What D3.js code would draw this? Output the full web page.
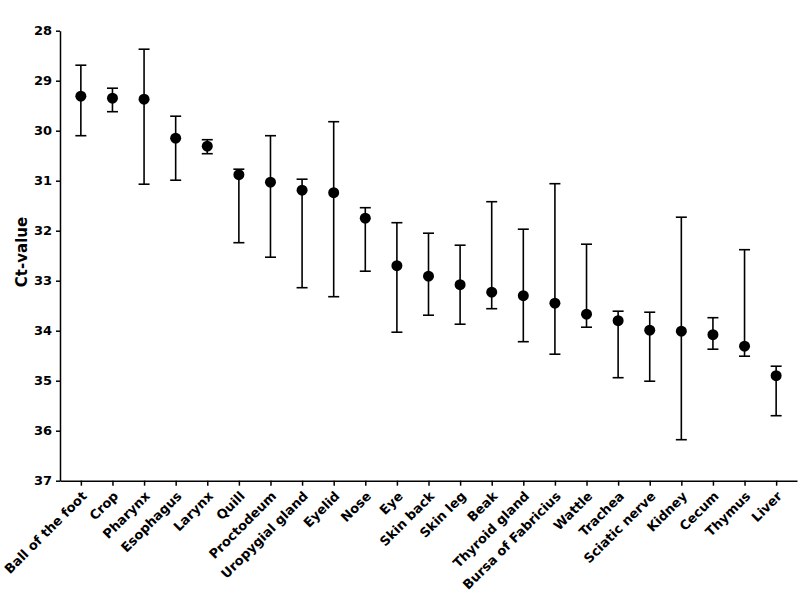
<!DOCTYPE html>
<html><head><meta charset="utf-8">
<script src="https://cdn.jsdelivr.net/npm/d3@7"></script>
<style>body{margin:0;background:#fff}svg{display:block}text{font-family:"DejaVu Sans",sans-serif;font-weight:bold}</style>
</head><body>
<svg id="c" width="800" height="593"></svg>
<script>
const categories = ["Ball of the foot","Crop","Pharynx","Esophagus","Larynx","Quill","Proctodeum","Uropygial gland","Eyelid","Nose","Eye","Skin back","Skin leg","Beak","Thyroid gland","Bursa of Fabricius","Wattle","Trachea","Sciatic nerve","Kidney","Cecum","Thymus","Liver"];
const means = [29.31,29.35,29.37,30.15,30.31,30.88,31.03,31.19,31.24,31.75,32.70,32.91,33.08,33.23,33.30,33.45,33.67,33.80,33.99,34.01,34.08,34.31,34.90];
const upper = [28.69,29.15,28.37,29.71,30.18,30.77,30.10,30.97,29.82,31.54,31.84,32.05,32.29,31.42,31.97,31.06,32.27,33.61,33.63,31.73,33.74,32.38,34.71];
const lower = [30.10,29.62,31.07,30.99,30.46,32.24,32.53,33.14,33.32,32.81,34.03,33.69,33.87,33.56,34.22,34.47,33.93,34.94,35.01,36.18,34.37,34.51,35.70];
const yTicks = [28,29,30,31,32,33,34,35,36,37];

const svg = d3.select("#c");
const x0 = 60, x1 = 797, yTop = 30.7, yBot = 480.7;
const x = d3.scalePoint().domain(categories).range([x0, x1]).padding(0.66);
const y = d3.scaleLinear().domain([28,37]).range([yTop, yBot]);
const data = categories.map((c,i)=>({c, m:means[i], u:upper[i], l:lower[i]}));

// y axis
const ya = svg.append("g").attr("transform",`translate(${x0},0)`)
  .call(d3.axisLeft(y).tickValues(yTicks).tickSize(4).tickSizeOuter(0).tickPadding(4).tickFormat(d3.format("d")));
ya.select(".domain").attr("stroke","#000").attr("stroke-width",1.5);
ya.selectAll(".tick line").attr("stroke","#000").attr("stroke-width",1.5);
ya.selectAll(".tick text").attr("font-size",13).attr("fill","#000").attr("font-weight","bold").attr("font-family","DejaVu Sans");

// x axis
const xa = svg.append("g").attr("transform",`translate(0,${yBot})`)
  .call(d3.axisBottom(x).tickSize(5).tickSizeOuter(0));
xa.select(".domain").attr("stroke","#000").attr("stroke-width",1.5);
xa.selectAll(".tick line").attr("stroke","#000").attr("stroke-width",1.5);
xa.selectAll(".tick text").attr("font-size",13).attr("fill","#000").attr("font-weight","bold").attr("font-family","DejaVu Sans")
  .attr("text-anchor","end").attr("x",0).attr("y",0).attr("dy","0.35em")
  .attr("transform","translate(3,13) rotate(-45)");

// error bars
const g = svg.append("g").attr("stroke","#000").attr("stroke-width",1.6);
g.selectAll(".v").data(data).join("line")
  .attr("x1",d=>x(d.c)).attr("x2",d=>x(d.c)).attr("y1",d=>y(d.u)).attr("y2",d=>y(d.l));
g.selectAll(".t").data(data).join("line")
  .attr("x1",d=>x(d.c)-5.5).attr("x2",d=>x(d.c)+5.5).attr("y1",d=>y(d.u)).attr("y2",d=>y(d.u));
g.selectAll(".b").data(data).join("line")
  .attr("x1",d=>x(d.c)-5.5).attr("x2",d=>x(d.c)+5.5).attr("y1",d=>y(d.l)).attr("y2",d=>y(d.l));

svg.append("g").selectAll("circle").data(data).join("circle")
  .attr("cx",d=>x(d.c)).attr("cy",d=>y(d.m)).attr("r",5.5).attr("fill","#000");

svg.append("text").attr("transform",`translate(27,252) rotate(-90)`)
  .attr("text-anchor","middle").attr("font-size",15).attr("fill","#000").text("Ct-value");
</script>
</body></html>
